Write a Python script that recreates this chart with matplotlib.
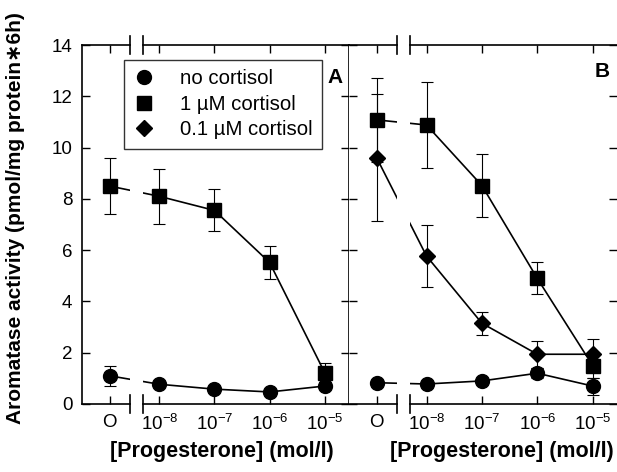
import matplotlib.pyplot as plt
import matplotlib.transforms as mtransforms

plt.rcParams['font.family'] = ['Liberation Sans', 'DejaVu Sans']
plt.rcParams['mathtext.fontset'] = 'custom'
plt.rcParams['mathtext.rm'] = 'Liberation Sans'
plt.rcParams['mathtext.it'] = 'Liberation Sans'

# x positions: log10 of progesterone, "O" put left of the axis break
x_pos = [-8.9, -8, -7, -6, -5]
x_labels = ['O', '$10^{-8}$', '$10^{-7}$', '$10^{-6}$', '$10^{-5}$']

# panel A
a_none = [1.1, 0.77, 0.58, 0.47, 0.7]
a_none_err = [0.4, 0, 0, 0, 0]
a_one = [8.5, 8.1, 7.55, 5.52, 1.22]
a_one_err = [1.1, 1.08, 0.82, 0.66, 0.38]

# panel B
b_none = [0.83, 0.78, 0.9, 1.2, 0.7]
b_none_err = [0, 0, 0, 0.2, 0.33]
b_one = [11.08, 10.88, 8.52, 4.9, 1.5]
b_one_err = [1.63, 1.67, 1.23, 0.62, 0.5]
b_tenth = [9.6, 5.77, 3.15, 1.94, 1.94]
b_tenth_err = [2.48, 1.2, 0.45, 0.52, 0.58]

brk = (-8.53, -8.29)

fig = plt.figure(figsize=(6.17, 4.72), dpi=100)
ax_a = fig.add_axes([82/617, 1-404/472, 267/617, 359/472])
ax_b = fig.add_axes([349/617, 1-404/472, 268/617, 359/472])


def draw_series(ax, y, err, marker, ms, label):
    ax.plot(x_pos, y, color='black', lw=1.2, zorder=2)
    ax.errorbar(x_pos, y, yerr=err, fmt='none', ecolor='black', elinewidth=0.8,
                capsize=4.5, capthick=0.8, zorder=2)
    ax.plot(x_pos, y, linestyle='none', marker=marker, ms=ms, color='black',
            zorder=3, label=label)


def style_axis(ax):
    ax.set_xlim(-9.4, -4.56)
    ax.set_ylim(0, 14)
    ax.set_xticks(x_pos)
    ax.set_xticklabels(x_labels, fontsize=13.5)
    ax.set_yticks(range(0, 15, 2))
    ax.tick_params(direction='in', length=6, width=1, top=True, right=True,
                   pad=7)
    ax.spines['top'].set_visible(False)
    ax.spines['bottom'].set_visible(False)
    for s in ('left', 'right'):
        ax.spines[s].set_linewidth(1.2)
    # gap in the data lines at the axis break
    ax.axvspan(brk[0], brk[1], color='white', zorder=2.5, lw=0)
    tr = mtransforms.blended_transform_factory(ax.transData, ax.transAxes)
    x0, x1 = ax.get_xlim()
    for yy in (0, 1):
        ax.plot([x0, brk[0]], [yy, yy], color='black', lw=1.2, transform=tr,
                clip_on=False, zorder=4)
        ax.plot([brk[1], x1], [yy, yy], color='black', lw=1.2, transform=tr,
                clip_on=False, zorder=4)
        for xb in brk:
            ax.plot([xb, xb], [yy - 0.026, yy + 0.026], color='black', lw=1.2,
                    transform=tr, clip_on=False, zorder=4)


draw_series(ax_a, a_none, a_none_err, 'o', 10, 'no cortisol')
draw_series(ax_a, a_one, a_one_err, 's', 9.5, '1 \u00b5M cortisol')
ax_a.plot([], [], linestyle='none', marker='D', ms=8.5, color='black',
          label='0.1 \u00b5M cortisol')
style_axis(ax_a)
ax_a.tick_params(axis='y', labelsize=13.5)

draw_series(ax_b, b_none, b_none_err, 'o', 10, 'no cortisol')
draw_series(ax_b, b_one, b_one_err, 's', 9.5, '1 \u00b5M cortisol')
draw_series(ax_b, b_tenth, b_tenth_err, 'D', 8.5, '0.1 \u00b5M cortisol')
style_axis(ax_b)
ax_b.tick_params(axis='y', labelleft=False)
ax_b.spines['right'].set_visible(False)
ax_b.spines['left'].set_visible(False)

leg = ax_a.legend(loc='upper left', bbox_to_anchor=(0.157, 0.958),
                  borderaxespad=0, fontsize=14.7, frameon=True, fancybox=False,
                  edgecolor='black', handletextpad=1.2, borderpad=0.45,
                  labelspacing=0.32, handlelength=1.1)
leg.get_frame().set_linewidth(1.0)

ax_a.text(0.948, 0.91, 'A', transform=ax_a.transAxes, fontsize=15,
          fontweight='bold', ha='center', va='center', zorder=6)
ax_b.text(0.945, 0.925, 'B', transform=ax_b.transAxes, fontsize=15,
          fontweight='bold', ha='center', va='center')

fig.text(16/617, 1-218/472, 'Aromatase activity (pmol/mg protein\u22176h)',
         rotation=90, fontsize=15, fontweight='bold', ha='center', va='center')
fig.text(222/617, 1-451/472, '[Progesterone] (mol/l)', fontsize=15.5,
         fontweight='bold', ha='center', va='center')
fig.text(502/617, 1-451/472, '[Progesterone] (mol/l)', fontsize=15.5,
         fontweight='bold', ha='center', va='center')

fig.savefig('out.png', dpi=100)
